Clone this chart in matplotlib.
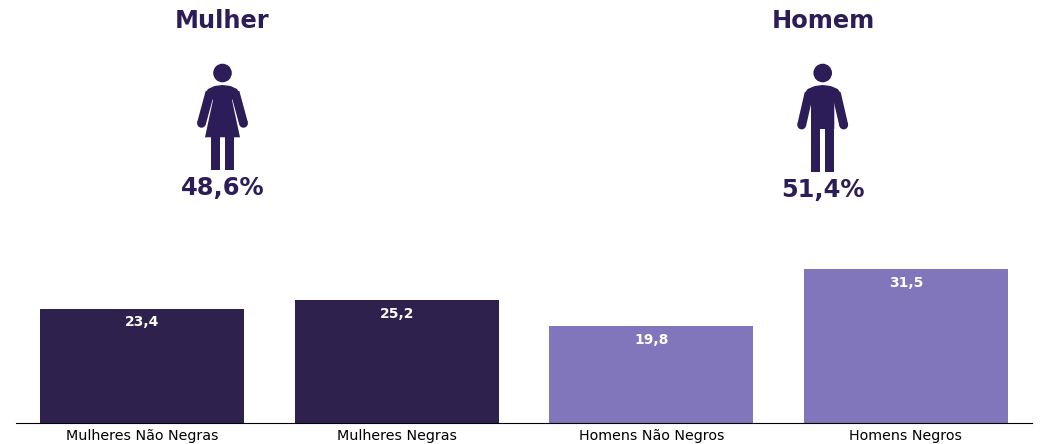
import matplotlib

matplotlib.use("Agg")

import matplotlib.pyplot as plt
from matplotlib.patches import Circle, Polygon

# dados
categorias = ["Mulheres Não Negras", "Mulheres Negras", "Homens Não Negros", "Homens Negros"]
valores = [23.4, 25.2, 19.8, 31.5]
rotulos = ["23,4", "25,2", "19,8", "31,5"]
generos = ["Mulher", "Homem"]
percentuais = ["48,6%", "51,4%"]

ROXO_TEXTO = "#2c1c58"
ROXO_ESCURO = "#2e214e"
ROXO_CLARO = "#8175bb"
W, H = 1040, 444
BRACO = 6.4  # espessura do braço, em pontos


def bracos(ax, cx, dx_ombro, y_ombro, dx_mao, y_mao):
    for lado in (-1, 1):
        ax.plot([cx + lado * dx_ombro, cx + lado * dx_mao], [y_ombro, y_mao],
                color=ROXO_TEXTO, lw=BRACO, solid_capstyle="butt")
        ax.add_patch(Circle((cx + lado * dx_mao, y_mao), 4.4, color=ROXO_TEXTO, lw=0))


def retangulo(ax, x0, x1, y0, y1):
    ax.add_patch(Polygon([(x0, y0), (x1, y0), (x1, y1), (x0, y1)], color=ROXO_TEXTO, lw=0))


def figura_mulher(ax, cx):
    # coordenadas em pixels da imagem
    ax.add_patch(Circle((cx, 73), 9.3, color=ROXO_TEXTO, lw=0))
    bracos(ax, cx, 12.5, 92, 21, 123.3)
    ax.add_patch(Polygon([(cx - 17, 93), (cx - 14.5, 89), (cx - 8, 86), (cx, 85), (cx + 8, 86), (cx + 14.5, 89),
                          (cx + 17, 93), (cx + 9.5, 100), (cx + 17.5, 137.3), (cx - 17.5, 137.3), (cx - 9.5, 100)],
                         closed=True, color=ROXO_TEXTO, lw=0))
    retangulo(ax, cx - 11.8, cx - 2.5, 136, 170)
    retangulo(ax, cx + 2.2, cx + 11.5, 136, 170)


def figura_homem(ax, cx):
    ax.add_patch(Circle((cx, 73), 9.3, color=ROXO_TEXTO, lw=0))
    bracos(ax, cx, 13.7, 93.3, 21, 125)
    ax.add_patch(Polygon([(cx - 18, 93), (cx - 15, 89), (cx - 8, 86), (cx, 85), (cx + 8, 86), (cx + 15, 89),
                          (cx + 18, 93), (cx + 11.6, 103), (cx + 11.6, 129), (cx - 11.7, 129), (cx - 11.7, 103)],
                         closed=True, color=ROXO_TEXTO, lw=0))
    retangulo(ax, cx - 11.7, cx - 2.7, 128, 171.7)
    retangulo(ax, cx + 2.6, cx + 11.6, 128, 171.7)


fig = plt.figure(figsize=(W / 100, H / 100), dpi=100)

ax = fig.add_axes([16 / W, 1 - 423 / H, 1016 / W, 200 / H])
cores = [ROXO_ESCURO, ROXO_ESCURO, ROXO_CLARO, ROXO_CLARO]
barras = ax.bar(categorias, valores, width=0.8, color=cores)
ax.set_xlim(-0.495, 3.495)
ax.set_ylim(0, 200 * 31.5 / 154)
for b, r in zip(barras, rotulos):
    ax.annotate(r, (b.get_x() + b.get_width() / 2, b.get_height()), xytext=(0, -10), textcoords="offset points",
                ha="center", va="center", color="white", fontsize=10, fontweight="bold")
for s in ("top", "left", "right"):
    ax.spines[s].set_visible(False)
ax.set_yticks([])
ax.tick_params(axis="x", length=0, labelsize=10.3, pad=4)

# camada de cima, em pixels
topo = fig.add_axes([0, 0, 1, 1])
topo.set_xlim(0, W)
topo.set_ylim(H, 0)
topo.axis("off")
topo.patch.set_alpha(0)

figura_mulher(topo, 222.5)
figura_homem(topo, 822.7)
for x, g, p, yp in zip([222.5, 823], generos, percentuais, [188, 190]):
    topo.text(x, 20.5, g, ha="center", va="center", fontsize=17.4, fontweight="bold", color=ROXO_TEXTO)
    topo.text(x, yp, p, ha="center", va="center", fontsize=17.4, fontweight="bold", color=ROXO_TEXTO)

fig.savefig("out.png", dpi=100)
